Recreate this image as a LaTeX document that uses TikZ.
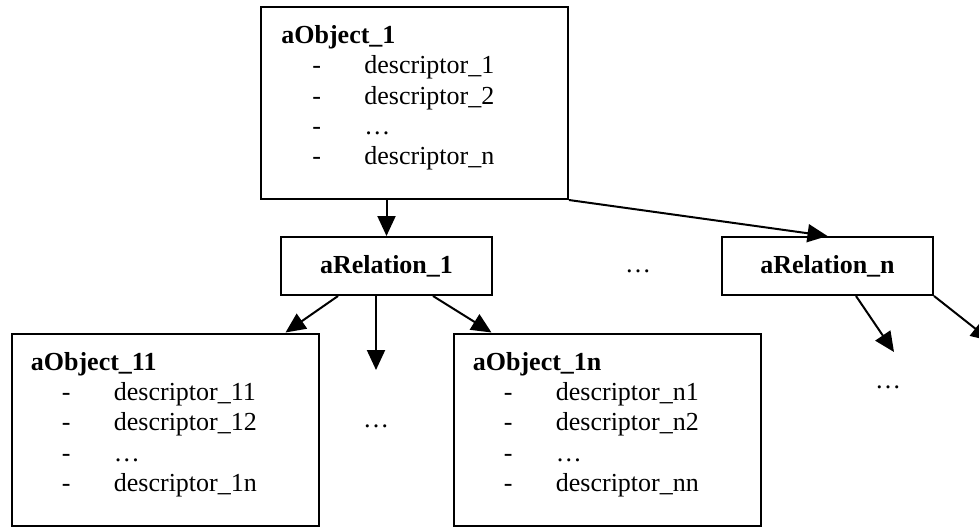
\documentclass[tikz,border=0pt]{standalone}
\usepackage{fontspec}
\setmainfont{Liberation Serif}
\usetikzlibrary{arrows.meta,positioning}

\newcommand{\descline}[1]{\hspace*{15.5pt}\makebox[26pt][l]{-}#1}

\begin{document}
\begin{tikzpicture}[x=0.5pt,y=-0.5pt,on grid,
    font=\fontsize{13}{15.15}\selectfont,
    objbox/.style={draw,line width=1pt,minimum width=153.5pt,minimum height=96pt,inner sep=0pt},
    relbox/.style={draw,line width=1pt,minimum width=105.5pt,minimum height=29pt,font=\fontsize{13}{15.15}\selectfont\bfseries},
    desc/.style={anchor=north west,align=left,inner sep=0pt},
    gap/.style={anchor=base,inner sep=0pt},
    arr/.style={-{Triangle[length=10pt,width=9pt]},line width=1pt}]
    \useasboundingbox (0,0) rectangle (979,527);

    \node[objbox] (obj1) at (414.5,103) {};
    \node[relbox] (rel1) [below left=81.5pt and 14pt of obj1] {aRelation\_1};
    \node[relbox] (reln) [right=220.5pt of rel1] {aRelation\_n};
    \node[objbox] (obj11) [below left=81.75pt and 110.75pt of rel1] {};
    \node[objbox] (obj1n) [below right=81.75pt and 110.25pt of rel1] {};

    % object texts
    \node[desc] (obj1txt) at ([shift={(21,16)}]obj1.north west)
        {\strut\textbf{aObject\_1}\\ \descline{descriptor\_1}\\ \descline{descriptor\_2}\\ \descline{…}\\ \descline{descriptor\_n}};
    \node[desc] (obj11txt) at ([shift={(20,16)}]obj11.north west)
        {\strut\textbf{aObject\_11}\\ \descline{descriptor\_11}\\ \descline{descriptor\_12}\\ \descline{…}\\ \descline{descriptor\_1n}};
    \node[desc] (obj1ntxt) at ([shift={(20,16)}]obj1n.north west)
        {\strut\textbf{aObject\_1n}\\ \descline{descriptor\_n1}\\ \descline{descriptor\_n2}\\ \descline{…}\\ \descline{descriptor\_nn}};

    \node[gap] (gap1) at (638,272) {…};
    \node[gap] (gap2) at (376,427) {…};
    \node[gap] (gap3) at (888,388) {…};

    \coordinate (more1) at (376,370);
    \coordinate (moren1) at (894,352);
    \coordinate (moren2) at (991,341);

    \draw[arr] (obj1.south -| rel1.north) -- (rel1.north);
    \draw[arr] (obj1.south east) -- (reln.north);
    \draw[arr] ([xshift=29pt]rel1.south west) -- ([xshift=-17pt]obj11.north east);
    \draw[arr] ([xshift=48pt]rel1.south west) -- (more1);
    \draw[arr] ([xshift=76.5pt]rel1.south west) -- ([xshift=19.5pt]obj1n.north west);
    \draw[arr] ([xshift=67.5pt]reln.south west) -- (moren1);
    \draw[arr] (reln.south east) -- (moren2);
\end{tikzpicture}
\end{document}
